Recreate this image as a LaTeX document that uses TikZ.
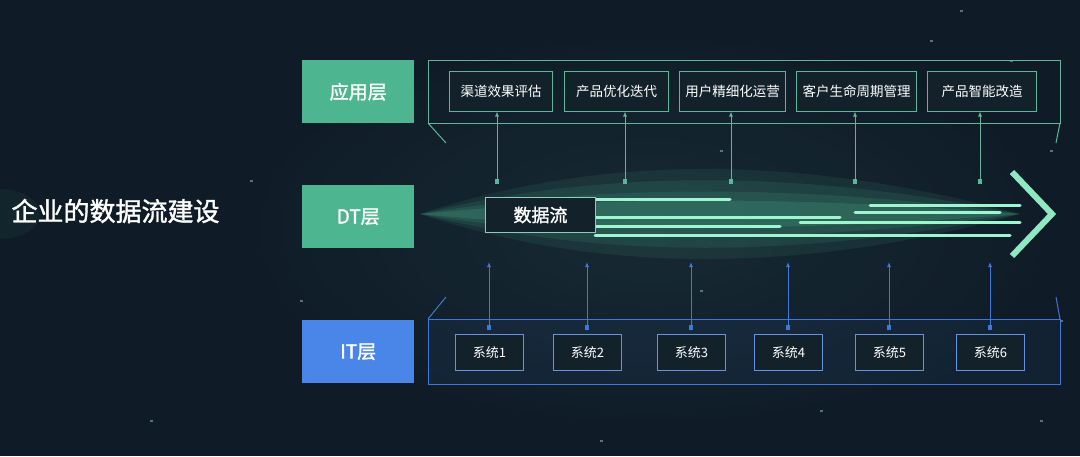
\documentclass[tikz,border=0pt]{standalone}
\usepackage{fontspec}
\setmainfont{Noto Sans CJK SC}[AutoFakeBold=1.5]
\usetikzlibrary{arrows.meta}
\definecolor{bg}{HTML}{0F1B26}
\definecolor{bgl}{HTML}{1A2E38}
\definecolor{lgreen}{HTML}{4DB58F}
\definecolor{lblue}{HTML}{4A86E8}
\definecolor{gline}{HTML}{5FB59A}
\definecolor{bline}{HTML}{3F78D8}
\definecolor{streak}{HTML}{9FF5CF}
\definecolor{boxbg}{HTML}{13212A}
\tikzset{
 layer/.style={minimum width=112pt,minimum height=63pt,inner sep=0pt,text=white,font=\fontsize{19}{19}\selectfont},
 app/.style={draw=gline,line width=1pt,fill=boxbg,minimum height=40pt,inner sep=0pt,text=white,font=\fontsize{13.5}{13.5}\selectfont},
 sys/.style={draw=bline!80!white,line width=1pt,fill=boxbg,minimum width=68pt,minimum height=36pt,inner sep=0pt,text=white,font=\fontsize{13}{13}\selectfont},
 garr/.style={draw=gline,line width=0.8pt,-{Latex[length=5pt,width=4pt]}},
 barr/.style={draw=bline,line width=0.8pt,-{Latex[length=5pt,width=4pt]}},
 st/.style={streak,line width=3pt,line cap=round}
}
\begin{document}
\begin{tikzpicture}[x=1pt,y=-1pt]
\useasboundingbox (0,0) rectangle (1080,456);
\fill[bg] (0,0) rectangle (1080,456);
\shade[inner color=bgl,outer color=bg,opacity=0.8] (650,230) ellipse (450 and 220);
% glow
\foreach \r/\o in {60/0.1,45/0.12,30/0.15,18/0.2}{
 \fill[lgreen,opacity=\o] (420,214) .. controls (600,214-\r) and (800,214-\r) .. (1020,214) .. controls (800,214+\r) and (600,214+\r) .. (420,214);}
\fill[lgreen,opacity=0.06] (0,214) ellipse (40 and 25);
% stars
\foreach \x/\y in {930/40,1010/60,1050/150,300/300,700/290,1040/420,820/410,250/180,600/440,960/10,150/420,1060/320,720/150}{\fill[lgreen!60,opacity=0.5] (\x,\y) rectangle ++(3,2);}
% title
\node[text=white,font=\fontsize{26}{26}\selectfont\bfseries,anchor=west] (title) at (8,211) {企业的数据流建设};
% layer labels
\node[layer,fill=lgreen,anchor=north west] (la) at (302,60) {\bfseries 应用层};
\node[layer,fill=lgreen,anchor=north west] (ld) at (302,185) {\bfseries DT层};
\node[layer,fill=lblue,anchor=north west] (li) at (302,320) {\bfseries IT层};
% app frame
\draw[gline,line width=1pt] (428,60) rectangle (1060,123);
\draw[gline,line width=1pt] (428,123) -- (446,143) (1060,123) -- (1056,143);
\node[app,minimum width=103pt,anchor=north west] (a1) at (449,71) {渠道效果评估};
\node[app,minimum width=104pt,anchor=north west] (a2) at (564,71) {产品优化迭代};
\node[app,minimum width=106pt,anchor=north west] (a3) at (679,71) {用户精细化运营};
\node[app,minimum width=120pt,anchor=north west] (a4) at (796,71) {客户生命周期管理};
\node[app,minimum width=109pt,anchor=north west] (a5) at (927,71) {产品智能改造};
% DT streaks and arrow
\foreach \ya/\xa/\xb in {199/595/730,205/870/1020,217/595/840,212/855/1000,226/595/780,222/800/1020,235/595/1010}{\draw[st] (\xa,\ya) -- (\xb,\ya);}
\draw[streak!80!lgreen,line width=6pt,line join=miter] (1012,172) -- (1052,214) -- (1012,256);
\node[draw=gline!70,line width=1pt,fill=boxbg,minimum width=110pt,minimum height=35pt,inner sep=0pt,text=white,font=\fontsize{18}{18}\selectfont\bfseries,anchor=north west] (df) at (485,197) {数据流};
% app arrows
\foreach \i/\x in {1/497,2/625,3/731,4/855,5/980}{
 \coordinate (da\i) at (\x,183);
 \fill[gline] (\x-2,179) rectangle (\x+2,184);
 \draw[garr] (da\i) -- (\x,111.5);}
% IT frame
\draw[bline,line width=1pt,fill=bline,fill opacity=0.08] (428,319) rectangle (1060,384);
\draw[bline,line width=1pt] (428,319) -- (446,297) (1060,319) -- (1056,297);
\foreach \i/\x/\n in {1/455/系统1,2/553/系统2,3/657/系统3,4/754/系统4,5/855/系统5,6/956/系统6}{
 \node[sys,anchor=north west] (s\i) at (\x,334) {\n};
 \fill[bline] (\x+32,325) rectangle (\x+36,330);
 \draw[barr] (\x+34,330) -- (\x+34,262);}
\end{tikzpicture}
\end{document}
